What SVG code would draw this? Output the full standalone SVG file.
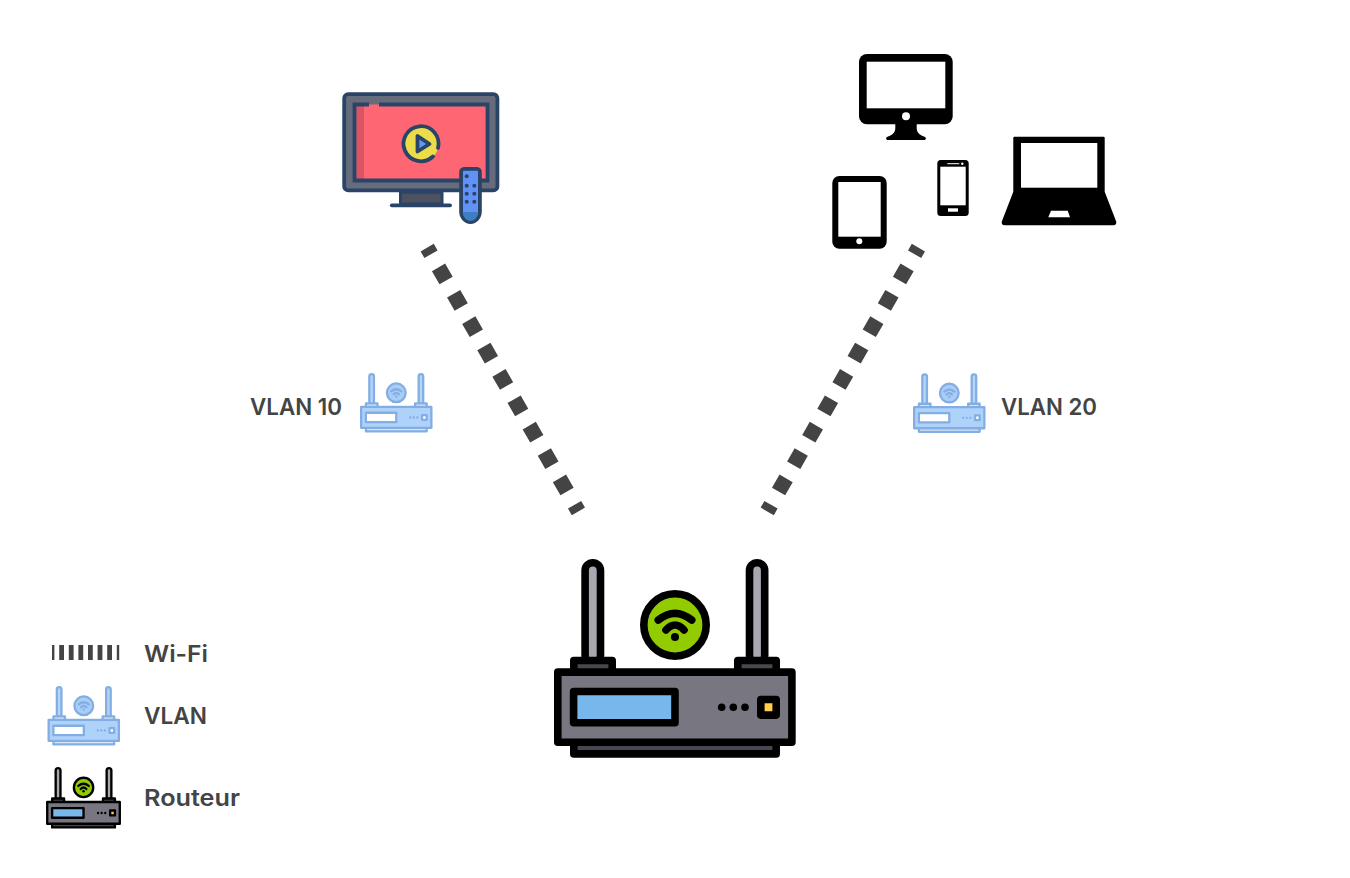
<svg xmlns="http://www.w3.org/2000/svg" width="1350" height="878" viewBox="0 0 1350 878">
<style>
text{font-family:"Inter","Noto Sans","Liberation Sans",sans-serif;font-weight:600;font-size:23px;fill:#444444}
.wifi{fill:none;stroke:#444444}
.r *{stroke-linejoin:round}
.rs{stroke:var(--s);stroke-width:7.6}
.fa{fill:var(--ant)}
.fd{fill:var(--dark)}
.fb{fill:var(--body)}
.fc{fill:var(--scr)}
.fg{fill:var(--grn)}
.fy{fill:var(--yel)}
.fs{fill:var(--s)}
.arc{fill:none;stroke:var(--wf);stroke-width:7.6;stroke-linecap:round}
.black{--s:#000000;--ant:#a9a8b0;--dark:#484750;--body:#787680;--scr:#78b7ec;--grn:#92cc00;--yel:#ffcf4a;--wf:#000000}
.blue{--s:#82aee3;--ant:#b5d5fb;--dark:#d6e4f5;--body:#afd2fb;--scr:#ffffff;--grn:#a9cdf6;--yel:#ffffff;--wf:#82aee3}
.n{stroke:#2a4468;stroke-width:3.8;stroke-linejoin:round}
</style>
<defs>
<g id="router" class="r">
<rect class="fa rs" x="585.1" y="562.8" width="15.4" height="100" rx="7.7"/>
<rect class="fa rs" x="749.5" y="562.8" width="15.2" height="100" rx="7.6"/>
<rect class="fd rs" x="573.8" y="660.5" width="38.4" height="14"/>
<rect class="fd rs" x="737.8" y="660.5" width="38.4" height="14"/>
<rect class="fd rs" x="573.8" y="735" width="202.4" height="18.9"/>
<rect class="fb rs" x="557.8" y="672.1" width="234.1" height="70.1"/>
<rect class="fc rs" x="573.6" y="691.5" width="101.4" height="31.3"/>
<circle class="fs" cx="721.7" cy="707.3" r="3.8"/>
<circle class="fs" cx="733.3" cy="707.3" r="3.8"/>
<circle class="fs" cx="745" cy="707.3" r="3.8"/>
<rect class="fy rs" x="760.8" y="699.5" width="15.4" height="15.6"/>
<circle class="fg rs" cx="675" cy="625" r="31.2"/>
<path class="arc" d="M658.3 620Q675 606.6 691.7 620"/>
<path class="arc" d="M666 630Q675 620 684 630"/>
<circle cx="675" cy="637" r="4" fill="var(--wf)"/>
</g>
</defs>
<g id="connectors">
<path class="wifi" stroke-width="15.2" stroke-dasharray="15.2 15.2" stroke-dashoffset="7.6" d="M427.2 247.6L578.4 511.4"/>
<path class="wifi" stroke-width="15.2" stroke-dasharray="15.2 15.2" stroke-dashoffset="7.6" d="M918.4 247.6L767.2 511.4"/>
</g>
<g id="tv">
<rect class="n" x="344.2" y="94.2" width="153.2" height="96.2" rx="4" fill="#666c7c"/>
<path d="M400.5 192.3V204H442V192.3Z" fill="#4e5260" stroke="#2a4468" stroke-width="3"/>
<path d="M391.8 205.300H450" fill="none" stroke="#2a4468" stroke-width="3.8" stroke-linecap="round"/>
<rect x="354.5" y="104.5" width="133" height="76" fill="#ff6673"/>
<rect x="356" y="106" width="8" height="73" fill="#d95564"/>
<path d="M369 104.500H354.500V180.500H487.500V104.500H379" fill="none" stroke="#2a4468" stroke-width="3.8"/>
<circle cx="421" cy="144" r="17.500" fill="#eddc4a"/>
<path d="M433 156.500A17.500 17.500 0 1 1 438 148" fill="none" stroke="#2a4468" stroke-width="3.8" stroke-linecap="round"/>
<path class="n" d="M417.500 136V151.500L429.500 144Z" fill="#5b9bef"/>
<path class="n" d="M464 168.800H477A3 3 0 0 1 479.900 172V211.500A9.400 10.500 0 0 1 461.100 211.500V172A3 3 0 0 1 464 168.800Z" fill="#6292f5"/>
<path d="M462.800 212H478.200A7.700 9 0 0 1 462.800 212Z" fill="#3e7fc4"/>
<g fill="#2a4468"><circle cx="466.700" cy="176.300" r="2"/><circle cx="466.700" cy="185.700" r="2"/><circle cx="474.300" cy="185.700" r="2"/><circle cx="466.700" cy="193.700" r="2"/><circle cx="474.300" cy="193.700" r="2"/><circle cx="466.700" cy="201.700" r="2"/><circle cx="474.300" cy="201.700" r="2"/></g>
</g>
<g id="monitor">
<rect x="859" y="54" width="93.700" height="70.300" rx="8" fill="#000"/>
<rect x="866.700" y="61.700" width="78.600" height="46.600" fill="#fff"/>
<circle cx="906" cy="116.300" r="4" fill="#fff"/>
<path d="M895.300 124V128C895.300 133 892 135 888 136.500C885 137.500 886 140 888 140H924C926 140 927 137.500 924 136.500C920 135 916.700 133 916.700 128V124Z" fill="#000"/>
</g>
<g id="tablet">
<rect x="832.300" y="176" width="54.400" height="72.700" rx="7" fill="#000"/>
<rect x="838.300" y="182" width="42.400" height="54.700" fill="#fff"/>
<circle cx="859.300" cy="241.300" r="3" fill="#fff"/>
</g>
<g id="phone">
<rect x="937.300" y="160" width="31.400" height="56" rx="3.500" fill="#000"/>
<rect x="940.300" y="166.700" width="25.400" height="38.600" fill="#fff"/>
<rect x="947.300" y="163.200" width="12" height="1" fill="#fff"/>
<circle cx="962.300" cy="163.700" r="1.200" fill="#fff"/>
<rect x="948" y="208.300" width="10" height="3.400" fill="#fff"/>
</g>
<g id="laptop">
<path d="M1014.300 136.800H1103.700A1 1 0 0 1 1104.700 137.800V191.700L1115.800 220.500C1117 223 1116 225.300 1113.500 225.300H1004.500C1002 225.300 1001 223 1002.200 220.500L1013.300 191.700V137.800A1 1 0 0 1 1014.300 136.800Z" fill="#000"/>
<rect x="1021" y="143" width="76.300" height="44.700" fill="#fff"/>
<path d="M1051 210.700H1067.700L1070 217.300H1048.300Z" fill="#fff"/>
</g>
<g id="router-main" class="black"><use href="#router"/></g>
<g id="vlan-10"><use class="blue" href="#router" transform="translate(193.800 205.300) scale(.3)"/><text x="250" y="415" textLength="92" lengthAdjust="spacingAndGlyphs">VLAN 10</text></g>
<g id="vlan-20"><use class="blue" href="#router" transform="translate(746.800 205.600) scale(.3)"/><text x="1001" y="415" textLength="96" lengthAdjust="spacingAndGlyphs">VLAN 20</text></g>
<g id="legend-wifi">
<path class="wifi" stroke-width="15" stroke-dasharray="4.800 4.800" stroke-dashoffset="2.400" d="M52 652.500H119.200"/>
<text x="144" y="661.500" textLength="64" lengthAdjust="spacingAndGlyphs">Wi-Fi</text>
</g>
<g id="legend-vlan"><use class="blue" href="#router" transform="translate(-118.700 518.300) scale(.3)"/><text x="144" y="724" textLength="63" lengthAdjust="spacingAndGlyphs">VLAN</text></g>
<g id="legend-router"><use class="black" href="#router" transform="translate(-125.700 593.700) scale(.31)"/><text x="144" y="805.700" textLength="96" lengthAdjust="spacingAndGlyphs">Routeur</text></g>
</svg>
